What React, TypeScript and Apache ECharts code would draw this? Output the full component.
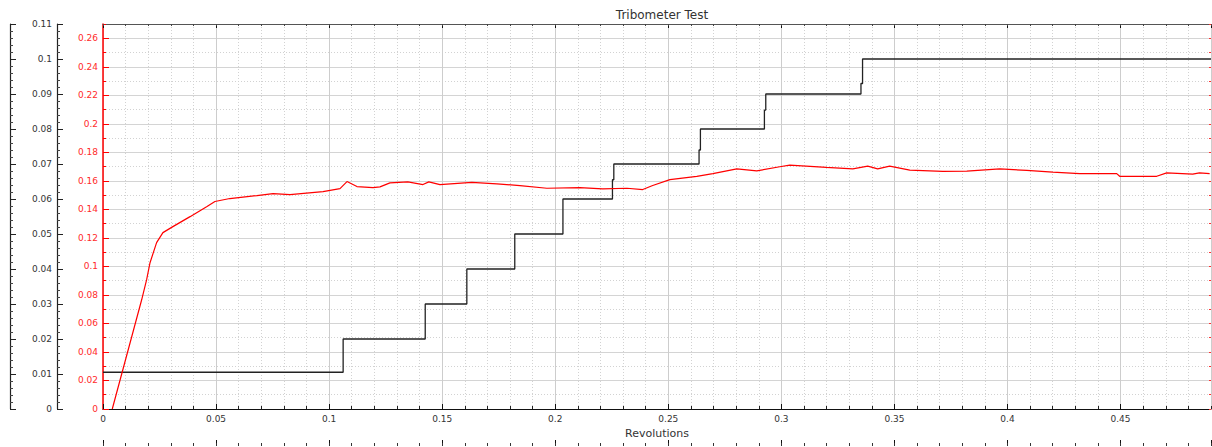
import React, { useEffect, useRef } from "react";
import * as echarts from "echarts";

// Friction coefficient (red axis) vs revolutions
const frictionRevs = [
  0.0041, 0.0171, 0.0193, 0.0208, 0.0237, 0.0265, 0.0309, 0.0385, 0.046, 0.0495,
  0.0561, 0.0681, 0.0752, 0.0827, 0.0973, 0.1048, 0.1079, 0.1123, 0.1194, 0.1225,
  0.1269, 0.1348, 0.1415, 0.1441, 0.149, 0.1631, 0.1742, 0.1844, 0.1963, 0.2109,
  0.221, 0.2317, 0.2387, 0.2431, 0.2507, 0.2626, 0.2697, 0.2803, 0.2891, 0.2993,
  0.3037, 0.3199, 0.3316, 0.3382, 0.3426, 0.3479, 0.3568, 0.3714, 0.382, 0.3966,
  0.4085, 0.42, 0.4319, 0.4483, 0.4496, 0.466, 0.4704, 0.4819, 0.4849, 0.4894,
];
const frictionValues = [
  0, 0.0766, 0.0907, 0.1026, 0.1167, 0.1237, 0.1279, 0.1349, 0.142, 0.1455,
  0.1476, 0.1497, 0.1511, 0.1504, 0.1525, 0.1546, 0.1595, 0.156, 0.1553, 0.1558,
  0.1586, 0.1593, 0.1574, 0.1593, 0.1574, 0.159, 0.1579, 0.1567, 0.1548, 0.1553,
  0.1544, 0.1548, 0.1539, 0.1567, 0.1609, 0.1632, 0.1651, 0.1684, 0.167, 0.1699,
  0.171, 0.1694, 0.1684, 0.1703, 0.1684, 0.1703, 0.1675, 0.1666, 0.1668, 0.1684,
  0.1673, 0.1661, 0.1651, 0.1651, 0.1632, 0.1632, 0.1656, 0.1647, 0.1656, 0.1651,
];

// Load steps (black axis): corner points of the stepped trace
const loadRevs = [
  0, 0.1062, 0.1062, 0.1425, 0.1425, 0.1609, 0.1609, 0.1821, 0.1821, 0.2034,
  0.2034, 0.2253, 0.2253, 0.2259, 0.2259, 0.2636, 0.2636, 0.2642, 0.2642, 0.2925,
  0.2925, 0.2931, 0.2931, 0.3352, 0.3352, 0.3359, 0.3359, 0.49,
];
const loadValues = [
  0.0105, 0.0105, 0.02, 0.02, 0.03, 0.03, 0.04, 0.04, 0.05, 0.05,
  0.06, 0.06, 0.0655, 0.0655, 0.07, 0.07, 0.074, 0.074, 0.08, 0.08,
  0.0854, 0.0854, 0.09, 0.09, 0.093, 0.093, 0.1, 0.1,
];

const TITLE = "Tribometer Test";
const X_NAME = "Revolutions";

const FONT = "DejaVu Sans";
const fmt = (v: number) => String(parseFloat(v.toFixed(3)));

export default function App() {
  const ref = useRef<HTMLDivElement>(null);

  useEffect(() => {
    document.body.style.margin = "0";
    if (!ref.current) return;
    const chart = echarts.init(ref.current, undefined, { renderer: "svg" });

    const xBase = { type: "value" as const, min: 0, max: 0.49, gridIndex: 0 };
    const noLabel = { show: false };
    const hiddenLine = { show: false, onZero: false };
    const redBase = { type: "value" as const, min: 0, max: 0.27, gridIndex: 0 };
    const blackBase = { type: "value" as const, min: 0, max: 0.11, interval: 0.01, gridIndex: 0 };

    const option: any = {
      animation: false,
      backgroundColor: "#ffffff",
      title: {
        text: TITLE,
        left: 657,
        top: 4,
        textAlign: "center",
        textStyle: { fontSize: 12, fontWeight: "normal", color: "#333", fontFamily: FONT },
      },
      grid: { left: 103, right: 1, top: 24, bottom: 38, containLabel: false },
      xAxis: [
        {
          ...xBase,
          position: "bottom",
          interval: 0.01,
          axisLine: hiddenLine,
          axisTick: { show: true, inside: true, length: 3, lineStyle: { color: "#222" } },
          axisLabel: noLabel,
          splitLine: { show: true, lineStyle: { color: "#d2d2d2", type: [1, 2], width: 1 } },
        },
        {
          ...xBase,
          position: "bottom",
          interval: 0.05,
          axisLine: { show: true, onZero: false, lineStyle: { color: "#111", width: 1 } },
          axisTick: { show: true, inside: true, length: 5, lineStyle: { color: "#111" } },
          axisLabel: {
            margin: 5,
            fontSize: 9,
            color: "#333",
            fontFamily: FONT,
            formatter: fmt,
            showMaxLabel: false,
          },
          splitLine: { show: true, lineStyle: { color: "#cdcdcd", width: 1 } },
          name: X_NAME,
          nameLocation: "middle",
          nameGap: 12,
          nameTextStyle: { fontSize: 11, color: "#333", fontFamily: FONT },
        },
        {
          ...xBase,
          position: "top",
          interval: 0.05,
          axisLine: { show: true, onZero: false, lineStyle: { color: "#555", width: 1 } },
          axisTick: { show: true, inside: true, length: 4, lineStyle: { color: "#111" } },
          axisLabel: noLabel,
          splitLine: { show: false },
        },
        {
          ...xBase,
          position: "top",
          interval: 0.01,
          axisLine: hiddenLine,
          axisTick: { show: true, inside: true, length: 2, lineStyle: { color: "#444" } },
          axisLabel: noLabel,
          splitLine: { show: false },
        },
        {
          ...xBase,
          position: "bottom",
          offset: 37,
          interval: 0.05,
          axisLine: hiddenLine,
          axisTick: { show: true, inside: true, length: 6, lineStyle: { color: "#111" } },
          axisLabel: noLabel,
          splitLine: { show: false },
        },
        {
          ...xBase,
          position: "bottom",
          offset: 37,
          interval: 0.01,
          axisLine: hiddenLine,
          axisTick: { show: true, inside: true, length: 3, lineStyle: { color: "#333" } },
          axisLabel: noLabel,
          splitLine: { show: false },
        },
      ],
      yAxis: [
        {
          ...redBase,
          position: "left",
          interval: 0.01,
          axisLine: hiddenLine,
          axisTick: { show: true, inside: true, length: 3, lineStyle: { color: "#ff0000" } },
          axisLabel: noLabel,
          splitLine: { show: true, lineStyle: { color: "#d2d2d2", type: [1, 2], width: 1 } },
        },
        {
          ...redBase,
          position: "left",
          interval: 0.02,
          axisLine: { show: true, onZero: false, lineStyle: { color: "#ff0000", width: 1.5 } },
          axisTick: { show: true, inside: true, length: 6, lineStyle: { color: "#ff0000" } },
          axisLabel: {
            margin: 5,
            fontSize: 9,
            color: "#ff2a2a",
            fontFamily: FONT,
            formatter: fmt,
            showMaxLabel: false,
          },
          splitLine: { show: true, lineStyle: { color: "#d4d4d4", width: 1 } },
        },
        {
          ...blackBase,
          position: "left",
          offset: 46,
          axisLine: { show: true, onZero: false, lineStyle: { color: "#222", width: 1.2 } },
          axisTick: { show: true, inside: true, length: 6, lineStyle: { color: "#222" } },
          minorTick: { show: true, splitNumber: 5, length: 3, lineStyle: { color: "#444" } },
          axisLabel: { margin: 5, fontSize: 9, color: "#333", fontFamily: FONT, formatter: fmt },
          splitLine: { show: false },
        },
        {
          ...blackBase,
          position: "left",
          offset: 93,
          axisLine: { show: true, onZero: false, lineStyle: { color: "#222", width: 1.2 } },
          axisTick: { show: true, inside: true, length: 6, lineStyle: { color: "#222" } },
          minorTick: { show: true, splitNumber: 5, length: 3, lineStyle: { color: "#444" } },
          axisLabel: noLabel,
          splitLine: { show: false },
        },
        {
          ...redBase,
          position: "right",
          interval: 0.01,
          axisLine: hiddenLine,
          axisTick: { show: true, inside: true, length: 2, lineStyle: { color: "#ff3030" } },
          axisLabel: noLabel,
          splitLine: { show: false },
        },
      ],
      series: [
        {
          name: "Load",
          type: "line",
          xAxisIndex: 1,
          yAxisIndex: 2,
          data: loadRevs.map((r, i) => [r, loadValues[i]]),
          symbol: "none",
          lineStyle: { color: "#222", width: 1.3 },
          z: 3,
        },
        {
          name: "Friction",
          type: "line",
          xAxisIndex: 1,
          yAxisIndex: 1,
          data: frictionRevs.map((r, i) => [r, frictionValues[i]]),
          symbol: "none",
          lineStyle: { color: "#ff0000", width: 1.2 },
          z: 4,
        },
      ],
    };

    chart.setOption(option);
    return () => chart.dispose();
  }, []);

  return <div ref={ref} style={{ width: 1212, height: 447 }} />;
}
